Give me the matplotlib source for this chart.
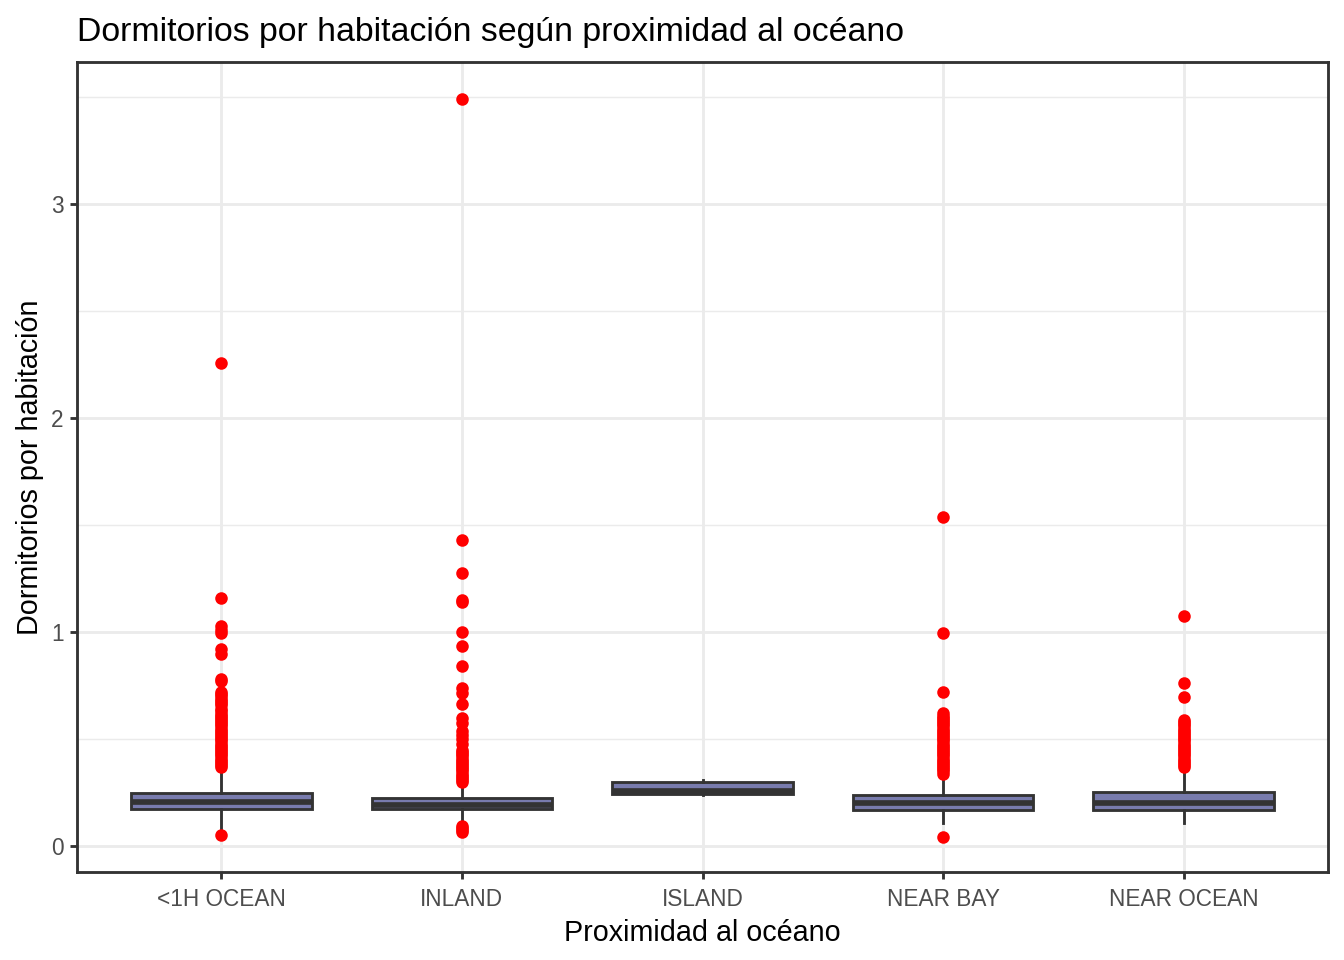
import matplotlib
matplotlib.use("Agg")
import matplotlib.pyplot as plt
from matplotlib.ticker import MultipleLocator

plt.rcParams['font.family'] = ['Liberation Sans', 'DejaVu Sans']

categorias = ["<1H OCEAN", "INLAND", "ISLAND", "NEAR BAY", "NEAR OCEAN"]

# cuartiles y bigotes
q1 = [0.173, 0.175, 0.246, 0.171, 0.171]
mediana = [0.205, 0.195, 0.258, 0.204, 0.204]
q3 = [0.250, 0.227, 0.300, 0.242, 0.254]
bigote_inf = [0.075, 0.120, 0.240, 0.107, 0.109]
bigote_sup = [0.365, 0.294, 0.308, 0.335, 0.364]

# valores atipicos
atipicos_1h = [0.051,
               0.37, 0.38, 0.39, 0.40, 0.41, 0.42, 0.43, 0.44, 0.45, 0.46,
               0.47, 0.48, 0.49, 0.50, 0.51, 0.52, 0.53, 0.54, 0.55, 0.56,
               0.57, 0.58, 0.59, 0.60, 0.61, 0.62, 0.63, 0.64, 0.66, 0.67,
               0.68, 0.69, 0.70, 0.71, 0.72, 0.77, 0.78,
               0.90, 0.92, 0.995, 1.01, 1.03, 1.16, 2.26]
atipicos_inland = [0.065, 0.075, 0.085, 0.095,
                   0.30, 0.31, 0.32, 0.33, 0.34, 0.35, 0.36, 0.37, 0.38,
                   0.39, 0.40, 0.41, 0.42, 0.43, 0.44, 0.45, 0.48, 0.50,
                   0.52, 0.54, 0.575, 0.60, 0.663, 0.715, 0.74, 0.841,
                   0.934, 1.00, 1.14, 1.15, 1.277, 1.43, 3.49]
atipicos_island = []
atipicos_bay = [0.043,
                0.34, 0.35, 0.36, 0.37, 0.38, 0.39, 0.40, 0.41, 0.42, 0.43,
                0.44, 0.45, 0.46, 0.47, 0.48, 0.49, 0.50, 0.51, 0.52, 0.53,
                0.54, 0.55, 0.56, 0.57, 0.58, 0.59, 0.60, 0.61, 0.625,
                0.72, 0.995, 1.54]
atipicos_ocean = [0.37, 0.38, 0.39, 0.40, 0.41, 0.42, 0.43, 0.44, 0.45,
                  0.46, 0.47, 0.48, 0.49, 0.50, 0.51, 0.52, 0.53, 0.54,
                  0.55, 0.56, 0.57, 0.58, 0.59,
                  0.698, 0.763, 1.076]
atipicos = [atipicos_1h, atipicos_inland, atipicos_island, atipicos_bay, atipicos_ocean]

stats = []
for i, cat in enumerate(categorias):
    stats.append({"label": cat, "q1": q1[i], "med": mediana[i], "q3": q3[i],
                  "whislo": bigote_inf[i], "whishi": bigote_sup[i],
                  "fliers": atipicos[i]})

gris20 = "#333333"
lw = 1.07

fig = plt.figure(figsize=(7, 5), dpi=192)
ax = fig.add_axes([77 / 1344, 1 - 872 / 960, (1328 - 77) / 1344, (872 - 62) / 960])

ax.bxp(stats, positions=range(1, 6), widths=0.75, patch_artist=True,
       showcaps=False,
       boxprops=dict(facecolor="#787BAD", edgecolor=gris20, linewidth=lw),
       medianprops=dict(color=gris20, linewidth=2.13, solid_capstyle="butt"),
       whiskerprops=dict(color=gris20, linewidth=lw),
       flierprops=dict(marker="o", markerfacecolor="red", markeredgecolor="red",
                       markersize=3.7, linestyle="none"))

ax.set_xlim(0.4, 5.6)
ax.set_ylim(-0.12, 3.664)
ax.set_xticks(range(1, 6))
ax.set_xticklabels(categorias)
ax.yaxis.set_major_locator(MultipleLocator(1))
ax.yaxis.set_minor_locator(MultipleLocator(0.5))

ax.set_axisbelow(True)
ax.grid(which="major", color="#EBEBEB", linewidth=lw)
ax.grid(which="minor", axis="y", color="#EBEBEB", linewidth=0.53)
ax.tick_params(which="major", length=2.75, width=lw, color=gris20,
               labelsize=8.5, labelcolor="#4D4D4D", pad=2.2)
ax.tick_params(axis="x", which="major", pad=3.3)
ax.tick_params(which="minor", length=0)
for s in ax.spines.values():
    s.set_color(gris20)
    s.set_linewidth(lw)

ax.set_title("Dormitorios por habitación según proximidad al océano",
             loc="left", fontsize=12.7, pad=7.8)
ax.set_xlabel("Proximidad al océano", fontsize=10.8, labelpad=3)
ax.set_ylabel("Dormitorios por habitación", fontsize=10.8, labelpad=2.8)

fig.savefig("out.png", dpi=192)
